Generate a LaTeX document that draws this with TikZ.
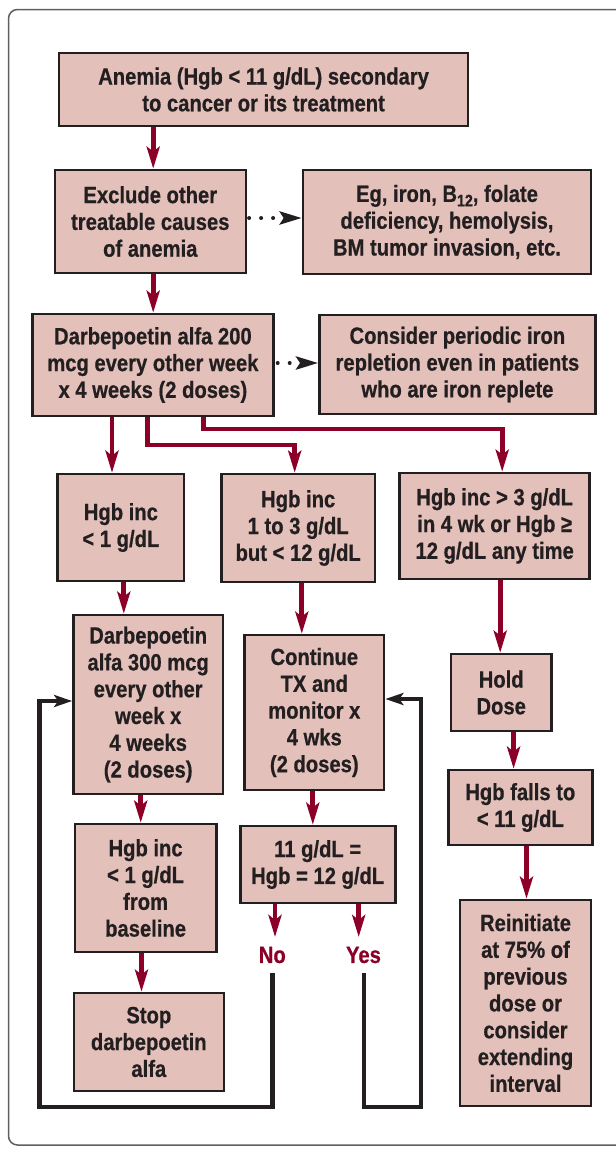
\documentclass[tikz,border=0pt]{standalone}
\usepackage{fontspec}
\setmainfont{Liberation Sans}
\newfontfamily\boxfont{Liberation Sans Bold}[FakeStretch=0.86, FakeBold=0.6]
\usetikzlibrary{arrows.meta}
\definecolor{boxfill}{RGB}{228,192,186}
\definecolor{arrred}{RGB}{140,0,40}
\definecolor{ink}{RGB}{35,31,32}
\definecolor{framegray}{RGB}{95,95,95}
\begin{document}
\begin{tikzpicture}[x=1pt,y=-1pt,
  box/.style={draw=ink, line width=2.6pt, fill=boxfill, text=ink, align=center, inner sep=0pt,
    font=\boxfont\fontsize{23.5}{26.8}\selectfont},
  redarrow/.style={draw=arrred, line width=4.8pt, -{Stealth[length=22pt,width=13pt,inset=5pt]}},
  loopline/.style={draw=ink, line width=4.4pt, line cap=butt, -{Stealth[length=18pt,width=12pt,inset=4pt]}},
  dotarrow/.style={draw=ink, line width=4pt, line cap=round, dash pattern=on 0pt off 12pt,
    -{Stealth[length=22pt,width=13pt,inset=4pt]}},
  answer/.style={text=arrred, font=\boxfont\fontsize{23.5}{24}\selectfont, inner sep=0pt}
]
\clip (0,0) rectangle (616,1149);
\draw[framegray, line width=1.5pt, rounded corners=9pt] (8.5,9.5) rectangle (650,1145);

\node[box, minimum width=409pt, minimum height=73pt] (b1) at (263.6,89.5)
  {Anemia (Hgb < 11 g/dL) secondary\\to cancer or its treatment};
\node[box, minimum width=191pt, minimum height=103pt] (b2) at (150.3,221.5)
  {Exclude other\\treatable causes\\of anemia};
\node[box, minimum width=288pt, minimum height=104pt] (b3) at (447,222)
  {Eg, iron, B\raisebox{-0.35ex}{\fontsize{16.5}{16.5}\selectfont 12}, folate\\deficiency, hemolysis,\\BM tumor invasion, etc.};
\node[box, minimum width=241pt, minimum height=102pt] (b4) at (152.9,365)
  {Darbepoetin alfa 200\\mcg every other week\\x 4 weeks (2 doses)};
\node[box, minimum width=276pt, minimum height=99pt] (b5) at (457.4,364.5)
  {Consider periodic iron\\repletion even in patients\\who are iron replete};
\node[box, minimum width=126.5pt, minimum height=107pt] (b6) at (120.9,527.5)
  {Hgb inc\\< 1 g/dL};
\node[box, minimum width=153.5pt, minimum height=108pt] (b7) at (298.2,528)
  {Hgb inc\\1 to 3 g/dL\\but < 12 g/dL};
\node[box, minimum width=190pt, minimum height=106pt] (b8) at (494.7,526)
  {Hgb inc > 3 g/dL\\in 4 wk or Hgb ≥\\12 g/dL any time};
\node[box, minimum width=149.5pt, minimum height=179pt] (b9) at (148.2,704.5)
  {Darbepoetin\\alfa 300 mcg\\every other\\week x\\4 weeks\\(2 doses)};
\node[box, minimum width=139.5pt, minimum height=155pt] (b10) at (314.3,712.5)
  {Continue\\TX and\\monitor x\\4 wks\\(2 doses)};
\node[box, minimum width=100.5pt, minimum height=77pt] (b11) at (501.2,692.5)
  {Hold\\Dose};
\node[box, minimum width=144pt, minimum height=75pt] (b12) at (520.3,807.5)
  {Hgb falls to\\< 11 g/dL};
\node[box, minimum width=141.5pt, minimum height=128pt] (b13) at (145.6,888)
  {Hgb inc\\< 1 g/dL\\from\\baseline};
\node[box, minimum width=155pt, minimum height=77pt] (b14) at (317.7,864.5)
  {11 g/dL =\\Hgb = 12 g/dL};
\node[box, minimum width=131pt, minimum height=206pt] (b15) at (525.5,1003)
  {Reinitiate\\at 75\% of\\previous\\dose or\\consider\\extending\\interval};
\node[box, minimum width=150pt, minimum height=98pt] (b16) at (148.8,1042)
  {Stop\\darbepoetin\\alfa};

% main red arrows
\draw[redarrow] (b1.south -| 153.2,0) -- (b2.north -| 153.2,0);
\draw[redarrow] (b2.south -| 153.2,0) -- (b4.north -| 153.2,0);
\draw[redarrow] (b4.south -| 112,0) -- (b6.north -| 112,0);
\draw[redarrow] (b4.south -| 147.3,0) -- (147.3,445) -- (294.7,445) -- (b7.north -| 294.7,0);
\draw[redarrow] (b4.south -| 203.5,0) -- (203.5,429) -- (502.2,429) -- (b8.north -| 502.2,0);
\draw[redarrow] (b6.south -| 123.8,0) -- (b9.north -| 123.8,0);
\draw[redarrow] (b7.south -| 301.8,0) -- (b10.north -| 301.8,0);
\draw[redarrow] (b8.south -| 500.2,0) -- (b11.north -| 500.2,0);
\draw[redarrow] (b11.south -| 513.6,0) -- (b12.north -| 513.6,0);
\draw[redarrow] (b12.south -| 526.5,0) -- (b15.north -| 526.5,0);
\draw[redarrow] (b9.south -| 140.7,0) -- (b13.north -| 140.7,0);
\draw[redarrow] (b13.south -| 141.5,0) -- (b16.north -| 141.5,0);
\draw[redarrow] (b10.south -| 312.8,0) -- (b14.north -| 312.8,0);

% dotted arrows
\draw[dotarrow] (b2.east |- 0,218) ++(2,0) -- (b3.west |- 0,218);
\draw[dotarrow] (b4.east |- 0,363) ++(3,0) -- (b5.west |- 0,363);

% No / Yes
\coordinate (noend) at (275,937);
\coordinate (yesend) at (358.7,937);
\draw[redarrow] (b14.south -| noend) -- (noend);
\draw[redarrow] (b14.south -| yesend) -- (yesend);
\node[answer] (no) at (272.3,955) {No};
\node[answer] (yes) at (363.5,955) {Yes};

% loops
\coordinate (nl) at (272.3,973);
\coordinate (yl) at (364.2,973);
\draw[loopline] (nl) -- (272.3,1107) -- (39.3,1107) -- (39.3,701) -- (b9.west |- 0,701);
\draw[loopline] (yl) -- (364.2,1107) -- (421.2,1107) -- (421.2,699) -- (b10.east |- 0,699);
\end{tikzpicture}
\end{document}
